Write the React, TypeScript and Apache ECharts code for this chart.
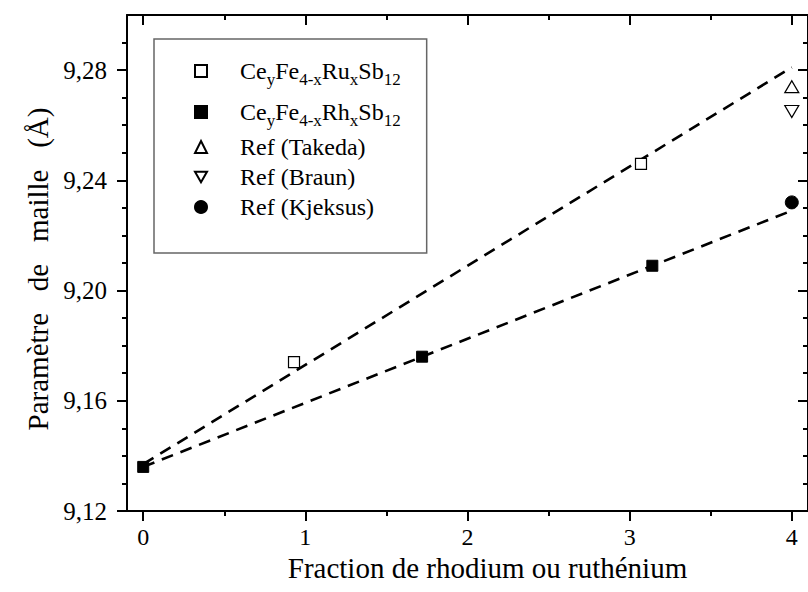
import React, { useEffect, useRef } from 'react';
import * as echarts from 'echarts';

const xTicks = [0, 1, 2, 3, 4];
const xMinorTicks = [0.5, 1.5, 2.5, 3.5];
const yTicks = [9.12, 9.16, 9.2, 9.24, 9.28];
const yMinorTicks = [9.13, 9.14, 9.15, 9.17, 9.18, 9.19, 9.21, 9.22, 9.23, 9.25, 9.26, 9.27, 9.29];

const ruX = [0.93, 3.07];
const ruY = [9.174, 9.246];
const rhX = [0, 1.72, 3.14];
const rhY = [9.136, 9.176, 9.209];
const takedaX = [4];
const takedaY = [9.274];
const braunX = [4];
const braunY = [9.265];
const kjeksusX = [4];
const kjeksusY = [9.232];
const fitRuX = [0, 4];
const fitRuY = [9.137, 9.281];
const fitRhX = [0, 4];
const fitRhY = [9.136, 9.229];

const pairs = (xs: number[], ys: number[]) => xs.map((x, i) => [x, ys[i]]);

const FONT = 'Liberation Serif';

export default function App() {
  const ref = useRef<HTMLDivElement>(null);
  useEffect(() => {
    if (!ref.current) return;
    const chart = echarts.init(ref.current, undefined, { renderer: 'svg' });
    const gridRect = { left: 127, top: 15, width: 686, height: 496 };
    const axisLine = { show: true, onZero: false, lineStyle: { color: '#000', width: 2 } };
    const hiddenLine = { show: false, onZero: false };
    const noLabel = { show: false };
    const tickStyle = { color: '#000', width: 2 };
    const base = { type: 'value' as const, splitLine: { show: false } };
    const xRange = { min: -0.1, max: 4.1 };
    const yRange = { min: 9.12, max: 9.3 };
    const names: Record<string, string> = {
      Ru: '{sp|}{m|Ce}{s|y}{m|Fe}{s|4-x}{m|Ru}{s|x}{m|Sb}{s|12}',
      Rh: '{sp|}{m|Ce}{s|y}{m|Fe}{s|4-x}{m|Rh}{s|x}{m|Sb}{s|12}',
    };
    const openStyle = { color: '#fff', borderColor: '#000', borderWidth: 1.2, opacity: 1 };
    const fillStyle = { color: '#000', borderColor: '#000', borderWidth: 1, opacity: 1 };
    chart.setOption({
      animation: false,
      backgroundColor: '#fff',
      grid: [{ ...gridRect }, { ...gridRect }],
      xAxis: [
        {
          ...base, ...xRange, gridIndex: 0, position: 'bottom', axisLine,
          axisTick: { show: true, inside: false, length: 10, lineStyle: tickStyle, customValues: xTicks },
          axisLabel: { show: true, customValues: xTicks, margin: 14, color: '#000', fontFamily: FONT, fontSize: 24 },
          name: 'Fraction de rhodium ou ruthénium', nameLocation: 'middle', nameGap: 32,
          nameTextStyle: { color: '#000', fontFamily: FONT, fontSize: 29, padding: [0, 0, 0, 40] },
        },
        {
          ...base, ...xRange, gridIndex: 0, position: 'top', axisLine,
          axisTick: { show: true, inside: true, length: 10, lineStyle: tickStyle, customValues: xTicks },
          axisLabel: noLabel,
        },
        {
          ...base, ...xRange, gridIndex: 1, position: 'bottom', axisLine: hiddenLine,
          axisTick: { show: true, inside: false, length: 5, lineStyle: tickStyle, customValues: xMinorTicks },
          axisLabel: noLabel,
        },
        {
          ...base, ...xRange, gridIndex: 1, position: 'top', axisLine: hiddenLine,
          axisTick: { show: true, inside: true, length: 5, lineStyle: tickStyle, customValues: xMinorTicks },
          axisLabel: noLabel,
        },
      ],
      yAxis: [
        {
          ...base, ...yRange, gridIndex: 0, position: 'left', axisLine,
          axisTick: { show: true, inside: false, length: 10, lineStyle: tickStyle, customValues: yTicks },
          axisLabel: {
            show: true, customValues: yTicks, margin: 20, color: '#000', fontFamily: FONT, fontSize: 25,
            formatter: (v: number) => v.toFixed(2).replace('.', ','),
          },
          name: 'Paramètre   de   maille   (Å)', nameLocation: 'middle', nameGap: 72,
          nameTextStyle: { color: '#000', fontFamily: FONT, fontSize: 29, padding: [0, 12, 0, 0] },
        },
        {
          ...base, ...yRange, gridIndex: 0, position: 'right', axisLine,
          axisTick: { show: true, inside: true, length: 10, lineStyle: tickStyle, customValues: yTicks },
          axisLabel: noLabel,
        },
        {
          ...base, ...yRange, gridIndex: 1, position: 'left', axisLine: hiddenLine,
          axisTick: { show: true, inside: false, length: 5, lineStyle: tickStyle, customValues: yMinorTicks },
          axisLabel: noLabel,
        },
        {
          ...base, ...yRange, gridIndex: 1, position: 'right', axisLine: hiddenLine,
          axisTick: { show: true, inside: true, length: 5, lineStyle: tickStyle, customValues: yMinorTicks },
          axisLabel: noLabel,
        },
      ],
      legend: {
        orient: 'vertical',
        left: 154,
        top: 39,
        padding: [14, 26, 34, 40],
        itemGap: 6,
        itemWidth: 12,
        itemHeight: 12,
        selectedMode: false,
        backgroundColor: '#fff',
        borderColor: '#666',
        borderWidth: 1.5,
        data: [
          { name: 'Ru' },
          { name: 'Rh' },
          { name: 'Ref (Takeda)' },
          { name: 'Ref (Braun)', icon: 'path://M0,0L14,0L7,12Z' },
          { name: 'Ref (Kjeksus)' },
        ],
        formatter: (name: string) => names[name] ?? `{sp|}{n|${name}}`,
        textStyle: {
          color: '#000',
          fontFamily: FONT,
          fontSize: 24,
          rich: {
            sp: { width: 28 },
            n: { fontFamily: FONT, fontSize: 24, lineHeight: 26, color: '#000' },
            m: { fontFamily: FONT, fontSize: 24, lineHeight: 34, verticalAlign: 'middle', color: '#000' },
            s: { fontFamily: FONT, fontSize: 17, lineHeight: 16, verticalAlign: 'bottom', padding: [18, 0, 0, 0], color: '#000' },
          },
        },
      },
      series: [
        {
          type: 'line', name: 'fitRu', xAxisIndex: 0, yAxisIndex: 0, data: pairs(fitRuX, fitRuY),
          showSymbol: false, symbol: 'none', silent: true, z: 1,
          lineStyle: { color: '#000', width: 2.6, type: [12, 8] },
        },
        {
          type: 'line', name: 'fitRh', xAxisIndex: 0, yAxisIndex: 0, data: pairs(fitRhX, fitRhY),
          showSymbol: false, symbol: 'none', silent: true, z: 1,
          lineStyle: { color: '#000', width: 2.6, type: [12, 8] },
        },
        {
          type: 'scatter', name: 'Ru', data: pairs(ruX, ruY), symbol: 'rect', symbolSize: 11, z: 3,
          itemStyle: openStyle,
        },
        {
          type: 'scatter', name: 'Rh', data: pairs(rhX, rhY), symbol: 'rect', symbolSize: 11, z: 3,
          itemStyle: fillStyle,
        },
        {
          type: 'scatter', name: 'Ref (Takeda)', data: pairs(takedaX, takedaY), symbol: 'triangle', symbolSize: [14, 12], z: 3,
          itemStyle: openStyle,
        },
        {
          type: 'scatter', name: 'Ref (Braun)', data: pairs(braunX, braunY), symbol: 'triangle', symbolRotate: 180, symbolSize: [14, 12], z: 3,
          itemStyle: openStyle,
        },
        {
          type: 'scatter', name: 'Ref (Kjeksus)', data: pairs(kjeksusX, kjeksusY), symbol: 'circle', symbolSize: 13, z: 3,
          itemStyle: fillStyle,
        },
      ],
    });
    return () => chart.dispose();
  }, []);
  return (
    <div
      ref={ref}
      style={{ position: 'fixed', left: 0, top: 0, width: 808, height: 592, background: '#fff' }}
    />
  );
}
